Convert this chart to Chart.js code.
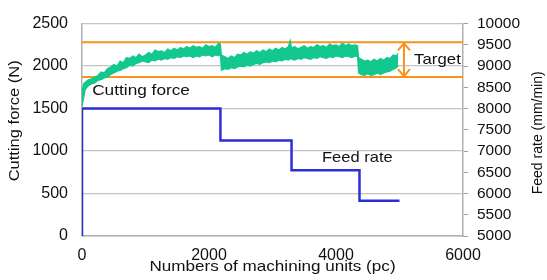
<!DOCTYPE html>
<html lang="en">
<head>
    <meta charset="utf-8" />
    <title>Cutting force and feed rate</title>
    <script src="https://cdn.jsdelivr.net/npm/chart.js"></script>
    <style>
        body { margin: 0; background: #fff; }
        #cutChart { display: block; }
    </style>
</head>
<body>
    <canvas id="cutChart" width="547" height="280"></canvas>
    <script>
        // cutting force band (upper / lower edge of the noisy signal), N
        const forceX = [0, 25, 50, 100, 150, 200, 250, 300, 350, 400,
            450, 500, 550, 600, 650, 700, 750, 800, 850, 900,
            950, 1000, 1050, 1100, 1150, 1200, 1250, 1300, 1350, 1400,
            1450, 1500, 1550, 1600, 1650, 1700, 1750, 1800, 1850, 1900,
            1950, 2000, 2050, 2100, 2150, 2180, 2195, 2250, 2300, 2350,
            2400, 2450, 2500, 2550, 2600, 2650, 2700, 2750, 2800, 2850,
            2900, 2950, 3000, 3050, 3100, 3150, 3200, 3250, 3280, 3300,
            3350, 3400, 3450, 3500, 3550, 3600, 3650, 3700, 3750, 3800,
            3850, 3900, 3950, 4000, 4050, 4100, 4150, 4200, 4250, 4300,
            4340, 4355, 4400, 4450, 4500, 4550, 4600, 4650, 4700, 4750,
            4800, 4850, 4900, 4950, 4980];
        const forceHigh = [1700, 1790, 1810, 1840, 1850, 1870, 1890, 1930, 1920, 1970,
            1990, 2020, 2000, 2060, 2040, 2100, 2090, 2120, 2100, 2140,
            2110, 2130, 2160, 2140, 2190, 2170, 2180, 2160, 2200, 2180,
            2210, 2190, 2220, 2200, 2230, 2210, 2240, 2220, 2230, 2210,
            2250, 2230, 2240, 2220, 2270, 2260, 2130, 2110, 2090, 2120,
            2100, 2140, 2130, 2160, 2140, 2170, 2150, 2180, 2160, 2190,
            2170, 2200, 2180, 2210, 2190, 2220, 2200, 2230, 2300, 2210,
            2230, 2200, 2220, 2240, 2210, 2230, 2220, 2250, 2230, 2240,
            2220, 2260, 2240, 2250, 2230, 2270, 2240, 2260, 2240, 2250,
            2240, 2100, 2080, 2060, 2070, 2050, 2080, 2060, 2090, 2070,
            2100, 2090, 2130, 2120, 2150];
        const forceLow = [1530, 1620, 1720, 1770, 1790, 1800, 1830, 1840, 1860, 1870,
            1900, 1920, 1940, 1950, 1970, 1980, 2010, 2000, 2030, 2040,
            2060, 2050, 2040, 2070, 2060, 2080, 2070, 2090, 2080, 2100,
            2090, 2110, 2100, 2120, 2110, 2120, 2100, 2120, 2110, 2130,
            2120, 2130, 2110, 2130, 2120, 2140, 1950, 1970, 1960, 1980,
            1970, 1990, 2000, 1990, 2010, 2000, 2020, 2030, 2020, 2040,
            2050, 2040, 2060, 2050, 2070, 2060, 2080, 2070, 2090, 2080,
            2070, 2090, 2080, 2100, 2090, 2080, 2100, 2090, 2110, 2100,
            2090, 2110, 2100, 2120, 2110, 2100, 2120, 2110, 2100, 2120,
            2110, 1920, 1900, 1890, 1910, 1890, 1900, 1920, 1900, 1920,
            1930, 1940, 1960, 1980, 2000];

        // feed rate steps, mm/min
        const feedX = [0, 0, 2180, 3300, 4370, 5000];
        const feedY = [5000, 8000, 7250, 6550, 5830, 5830];

        // target band, N
        const targetHigh = 2280;
        const targetLow = 1870;
        const targetArrowX = 5070;

        const leftTicks = [0, 500, 1000, 1500, 2000, 2500];
        const rightTicks = [5000, 5500, 6000, 6500, 7000, 7500, 8000, 8500, 9000, 9500, 10000];
        const bottomTicks = [0, 2000, 4000, 6000];

        const green = '#12c88e';
        const blue = '#2b2fd6';
        const orange = '#f7931e';
        const font = '"Liberation Sans", Arial, sans-serif';

        const pts = (xs, ys) => xs.map((x, i) => ({ x: x, y: ys[i] }));

        // text drawn a little wider than the font, like the original figure
        function wideText(c, txt, x, y, sx) {
            c.save();
            c.translate(x, y);
            c.scale(sx, 1);
            c.fillText(txt, 0, 0);
            c.restore();
        }

        const labels = {
            id: 'labels',
            afterDraw(chart) {
                const c = chart.ctx;
                const xs = chart.scales.x, yl = chart.scales.y, area = chart.chartArea;
                c.save();
                c.fillStyle = '#111';
                c.font = '15px ' + font;
                c.textBaseline = 'middle';
                c.textAlign = 'left';
                wideText(c, 'Cutting force', xs.getPixelForValue(160), yl.getPixelForValue(1710), 1.15);
                wideText(c, 'Feed rate', xs.getPixelForValue(3780), chart.scales.y2.getPixelForValue(6830), 1.1);
                wideText(c, 'Target', xs.getPixelForValue(5230), yl.getPixelForValue(2075), 1.12);

                // double arrow for the target band
                const ax = xs.getPixelForValue(targetArrowX);
                const t = yl.getPixelForValue(targetHigh), b = yl.getPixelForValue(targetLow);
                c.strokeStyle = orange;
                c.lineWidth = 2;
                c.beginPath();
                c.moveTo(ax, t + 1); c.lineTo(ax, b - 1);
                c.moveTo(ax - 6, t + 8); c.lineTo(ax, t + 1); c.lineTo(ax + 6, t + 8);
                c.moveTo(ax - 6, b - 8); c.lineTo(ax, b - 1); c.lineTo(ax + 6, b - 8);
                c.stroke();

                // axis titles
                c.textAlign = 'center';
                wideText(c, 'Numbers of machining units (pc)', (area.left + area.right) / 2, 267, 1.14);
                c.font = '15px ' + font;
                c.translate(15, (area.top + area.bottom) / 2 - 9);
                c.rotate(-Math.PI / 2);
                wideText(c, 'Cutting force (N)', 0, 0, 1.1);
                c.setTransform(1, 0, 0, 1, 0, 0);
                c.font = '14px ' + font;
                c.translate(538, (area.top + area.bottom) / 2 + 3);
                c.rotate(-Math.PI / 2);
                c.fillText('Feed rate (mm/min)', 0, 0);
                c.restore();
            }
        };

        const tickFont = { family: font, size: 16 };

        new Chart(document.getElementById('cutChart'), {
            type: 'line',
            data: {
                datasets: [
                    {
                        data: pts(forceX, forceLow), yAxisID: 'y', borderColor: green, borderWidth: 1.2,
                        pointRadius: 0, tension: 0, fill: false, order: 1
                    },
                    {
                        data: pts(forceX, forceHigh), yAxisID: 'y', borderColor: green, borderWidth: 1.2,
                        backgroundColor: green, pointRadius: 0, tension: 0, fill: '-1', order: 1
                    },
                    {
                        data: pts([0, 6000], [targetHigh, targetHigh]), yAxisID: 'y', borderColor: orange,
                        borderWidth: 2, pointRadius: 0, order: 2
                    },
                    {
                        data: pts([0, 6000], [targetLow, targetLow]), yAxisID: 'y', borderColor: orange,
                        borderWidth: 2, pointRadius: 0, order: 2
                    },
                    {
                        data: pts(feedX, feedY), yAxisID: 'y2', borderColor: blue, borderWidth: 2.5,
                        pointRadius: 0, stepped: 'before', order: 3
                    }
                ]
            },
            options: {
                responsive: false,
                animation: false,
                layout: { padding: { top: 18 } },
                plugins: { legend: { display: false }, tooltip: { enabled: false } },
                scales: {
                    x: {
                        type: 'linear', min: 0, max: 6000,
                        afterBuildTicks: s => { s.ticks = bottomTicks.map(v => ({ value: v })); },
                        afterFit: s => { s.height = 44; },
                        grid: { display: false, drawTicks: false },
                        border: { color: '#b0b0b0', width: 1.5 },
                        ticks: { color: '#111', padding: 10, maxRotation: 0, font: tickFont, callback: v => String(v) }
                    },
                    y: {
                        position: 'left', min: 0, max: 2500,
                        afterBuildTicks: s => { s.ticks = leftTicks.map(v => ({ value: v })); },
                        afterFit: s => { s.width = 82; },
                        grid: { color: '#c4c4c4', lineWidth: 1.2, drawTicks: false },
                        border: { color: '#b0b0b0', width: 1.5 },
                        ticks: { color: '#111', padding: 14, font: tickFont, callback: v => String(v) }
                    },
                    y2: {
                        position: 'right', min: 5000, max: 10000,
                        afterBuildTicks: s => { s.ticks = rightTicks.map(v => ({ value: v })); },
                        afterFit: s => { s.width = 84; },
                        grid: { drawOnChartArea: false, color: '#a0a0a0', tickLength: 5 },
                        border: { color: '#b0b0b0', width: 1.5 },
                        ticks: {
                            color: '#111', padding: 9, autoSkip: false, font: { family: font, size: 15.5 },
                            callback: v => String(v)
                        }
                    }
                }
            },
            plugins: [labels]
        });
    </script>
</body>
</html>
